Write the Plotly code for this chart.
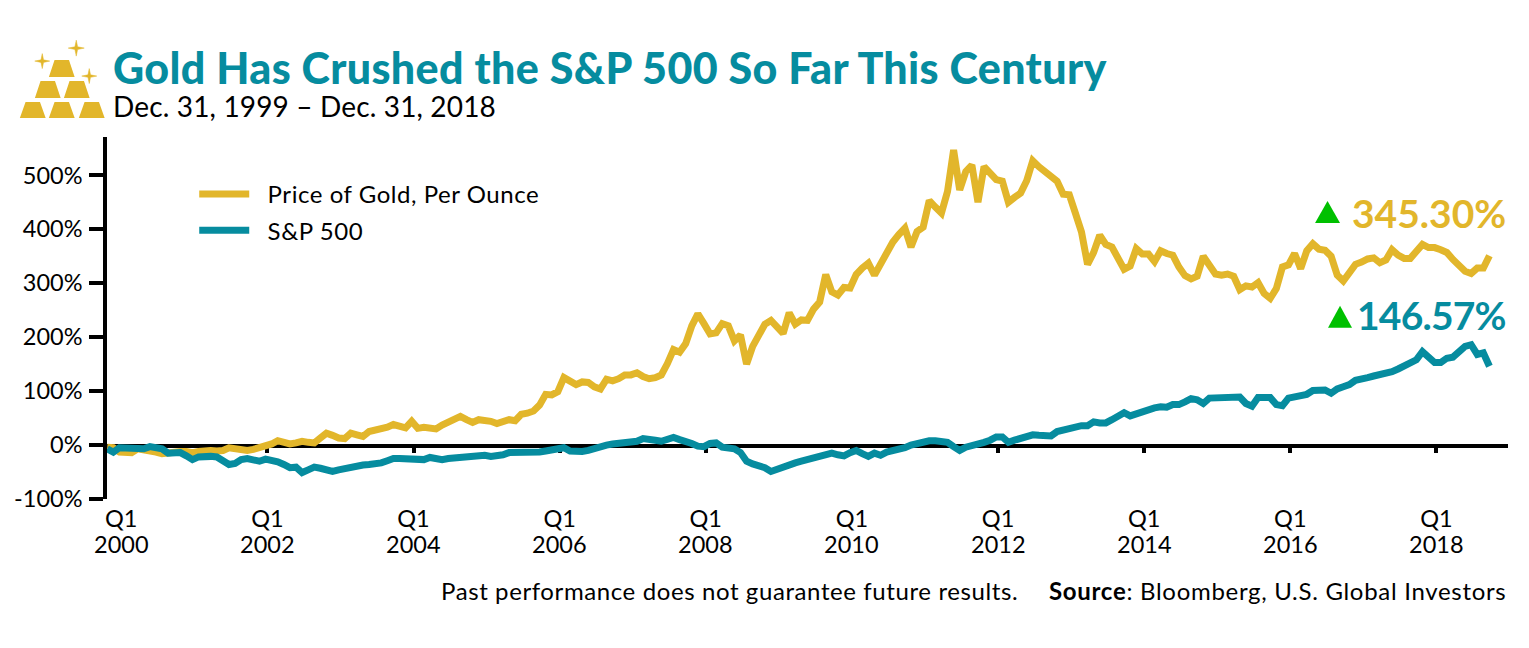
import plotly.graph_objects as go

# Monthly cumulative change, %
gold_2000_2003 = [-4,-5,-13,-14,-14,-7,-8,-11,-13,-16,-14,-13,
                  -12,-12,-14,-12,-10,-10,-11,-10,-5,-7,-11,-10,
                  -8,-5,-2,2,8,6,2,4,7,5,4,13,
                  22,18,13,12,22,19,16,25,27,28,33,38]
gold_2004_2007 = [36,32,44,31,33,31,30,37,42,45,53,47,
                  42,47,46,44,40,45,47,45,57,59,63,74,
                  94,93,99,125,120,112,117,116,108,104,122,119,
                  123,130,130,134,127,123,125,130,151,177,172,188]
gold_2008_2011 = [221,243,225,206,208,225,221,193,204,150,183,206,
                  224,231,219,207,245,224,232,231,252,265,316,284,
                  278,292,291,316,328,337,315,337,356,376,390,402,
                  367,396,404,453,441,430,470,547,473,507,519,450]
gold_2012_2015 = [516,503,492,489,450,459,467,490,527,516,506,495,
                  489,465,464,430,395,335,357,389,372,367,344,326,
                  332,364,354,354,340,360,355,352,330,314,308,313,
                  350,331,317,315,317,313,288,295,293,301,281,272]
gold_2016_2018 = [290,330,334,355,327,360,373,363,361,350,315,304,
                  320,335,339,345,347,338,343,362,352,346,346,358,
                  372,366,366,362,357,344,333,322,318,328,328,351]
gold = gold_2000_2003 + gold_2004_2007 + gold_2008_2011 + gold_2012_2015 + gold_2016_2018

sp_2000_2003 = [-7,-13,-5,-5,-7,-7,-7,-3,-4,-7,-15,-16,
                -14,-20,-27,-22,-20,-21,-22,-30,-36,-34,-27,-25,
                -27,-30,-26,-28,-31,-36,-42,-41,-51,-46,-41,-43,
                -47,-49,-46,-43,-41,-39,-37,-36,-36,-33,-29,-25]
sp_2004_2007 = [-25,-25,-25,-27,-27,-23,-26,-27,-25,-24,-21,-19,
                -19,-18,-19,-21,-20,-18,-14,-14,-15,-15,-14,-13,
                -11,-10,-7,-5,-11,-12,-12,-10,-6,-3,0,2,
                3,2,3,7,12,12,9,7,10,14,10,8]
sp_2008_2011 = [3,-2,-3,3,4,-4,-7,-7,-14,-30,-35,-38,
                -42,-49,-45,-39,-34,-33,-30,-27,-24,-22,-20,-15,
                -18,-20,-14,-10,-16,-21,-15,-19,-13,-11,-10,-5,
                0,3,3,8,8,7,5,-3,-10,-4,-2,0]
sp_2012_2015 = [5,9,15,15,5,9,12,16,19,18,17,17,
                25,28,32,35,36,36,43,41,41,47,55,60,
                54,58,63,65,69,71,70,75,75,80,86,84,
                77,87,87,88,89,87,89,77,72,88,89,88]
sp_2016_2018 = [75,73,87,89,92,94,101,103,102,96,104,108,
                112,120,121,125,128,130,134,136,141,146,153,158,
                173,163,153,153,161,163,173,183,186,168,171,146]
sp500 = sp_2000_2003 + sp_2004_2007 + sp_2008_2011 + sp_2012_2015 + sp_2016_2018

# Months since January 2000
months = list(range(228))
assert len(gold) == len(sp500) == len(months), (len(gold), len(sp500))

y_ticks = [-100, 0, 100, 200, 300, 400, 500]
y_labels = ["-100%", "0%", "100%", "200%", "300%", "400%", "500%"]
tick_years = list(range(2000, 2020, 2))
tick_months = [2.3 + 24 * k for k in range(len(tick_years))]

TITLE = "Gold Has Crushed the S&P 500 So Far This Century"
SUBTITLE = "Dec. 31, 1999 – Dec. 31, 2018"
NOTE = "Past performance does not guarantee future results."
SOURCE = "<b>Source</b>: Bloomberg, U.S. Global Investors"
GOLD_NAME = "Price of Gold, Per Ounce"
SP_NAME = "S&P 500"

GOLD = "#E2B62B"
TEAL = "#068C9F"
GREEN = "#00C000"
W, H = 1529, 648
L, T, PW, PH = 106.75, 137, 1401.25, 362.5
FONT = "Lato"


def spaced(text, px):
    return f"<span style='letter-spacing:{px}px'>{text}</span>"


def fx(x):
    return (x - L) / PW


def fy(y):
    return 1 - (y - T) / PH


def px(x, y):
    return f"{fx(x):.5f} {fy(y):.5f}"


def bar(x0, x1, y0, y1):
    return dict(type="path", xref="paper", yref="paper", fillcolor=GOLD,
                line=dict(color=GOLD, width=2),
                path=(f"M {px(x0 + 1, y1 - 1)} L {px(x0 + 6, y0 + 1)} "
                      f"L {px(x1 - 6, y0 + 1)} L {px(x1 - 1, y1 - 1)} Z"))


def star(cx, cy, r):
    k = r * 0.17
    d = (f"M {px(cx, cy - r)} L {px(cx + k, cy - k)} L {px(cx + r, cy)} L {px(cx + k, cy + k)} "
         f"L {px(cx, cy + r)} L {px(cx - k, cy + k)} L {px(cx - r, cy)} L {px(cx - k, cy - k)} Z")
    return dict(type="path", xref="paper", yref="paper", path=d, fillcolor=GOLD,
                line=dict(color=GOLD, width=0.5))


def tri(x0, x1, y0, y1):
    d = f"M {px(x0, y1)} L {px((x0 + x1) / 2, y0)} L {px(x1, y1)} Z"
    return dict(type="path", xref="paper", yref="paper", path=d, fillcolor=GREEN,
                line=dict(width=0))


def text(x, y, s, size, color="#000", anchor="left", weight="normal"):
    return dict(xref="paper", yref="paper", x=fx(x), y=fy(y), text=s, showarrow=False,
                xanchor=anchor, yanchor="middle", align=anchor,
                font=dict(family=FONT, size=size, color=color, weight=weight),
                borderpad=0, borderwidth=0)


fig = go.Figure()
fig.add_trace(go.Scatter(x=months, y=gold, mode="lines",
                         name=spaced("\u00a0\u00a0" + GOLD_NAME, 0.55),
                         legendgroup="a", line=dict(color=GOLD, width=7), hoverinfo="skip"))
fig.add_trace(go.Scatter(x=months, y=sp500, mode="lines",
                         name=spaced("\u00a0\u00a0" + SP_NAME, 0.55),
                         legendgroup="b", line=dict(color=TEAL, width=7), hoverinfo="skip"))

shapes = [bar(20, 45, 102, 118), bar(49, 74, 102, 118), bar(79, 104, 102, 118),
          bar(35, 60, 81, 98), bar(64, 89, 81, 98), bar(49, 74, 60, 77),
          star(76, 48, 8), star(42, 61, 7.5), star(89, 76, 7.5),
          tri(1315, 1340, 201, 223), tri(1328, 1352, 306, 328)]

ann = [text(112.5, 67, spaced(TITLE, 0.35), 43, TEAL, weight=900),
       text(112.5, 106, spaced(SUBTITLE, 0.15), 28),
       text(441, 591, spaced(NOTE, 0.6), 24),
       text(1506, 591, spaced(SOURCE, 0.7), 24, anchor="right"),
       text(1506, 213, "<b>345.30%</b>", 39, GOLD, anchor="right"),
       text(1506, 315, spaced("<b>146.57%</b>", -0.8), 39, TEAL, anchor="right")]
# Year row of the x tick labels, placed on the x scale
for m, y in zip(tick_months, tick_years):
    ann.append(dict(xref="x", yref="paper", x=m, y=fy(545), text=str(y), showarrow=False,
                    xanchor="center", yanchor="middle",
                    font=dict(family=FONT, size=23.5, color="#000")))

fig.update_layout(
    width=W, height=H, autosize=False, paper_bgcolor="white", plot_bgcolor="white",
    margin=dict(l=L, r=W - L - PW, t=T, b=H - T - PH),
    font=dict(family=FONT, size=23.5, color="#000"),
    shapes=shapes, annotations=ann,
    legend=dict(x=fx(194), y=fy(172), xanchor="left", yanchor="top",
                bgcolor="rgba(0,0,0,0)", itemwidth=50, tracegroupgap=2,
                font=dict(family=FONT, size=24, color="#000")),
    xaxis=dict(range=[-0.04, 230.05], tickmode="array", tickvals=tick_months,
               ticktext=["Q1"] * len(tick_years), ticks="outside", ticklen=5, tickwidth=3.5,
               tickcolor="#000", showline=True, linecolor="#000", linewidth=3.5,
               anchor="free", position=100 / 671 - 1 / PH, layer="below traces", showgrid=False,
               zeroline=False, ticklabelstandoff=46, tickangle=0,
               tickfont=dict(family=FONT, size=23.5, color="#000")),
    yaxis=dict(range=[-100, 571], tickmode="array", tickvals=y_ticks, ticktext=y_labels,
               ticks="outside", ticklen=14, tickwidth=3.5, tickcolor="#000", showline=True,
               linecolor="#000", linewidth=3.5, showgrid=False, zeroline=False,
               layer="below traces", ticklabelstandoff=2,
               tickfont=dict(family=FONT, size=23.5, color="#000")),
)

fig.write_html("out.html", config={"displayModeBar": False},
               post_script="document.body.style.margin='0';document.body.style.overflow='hidden';")
